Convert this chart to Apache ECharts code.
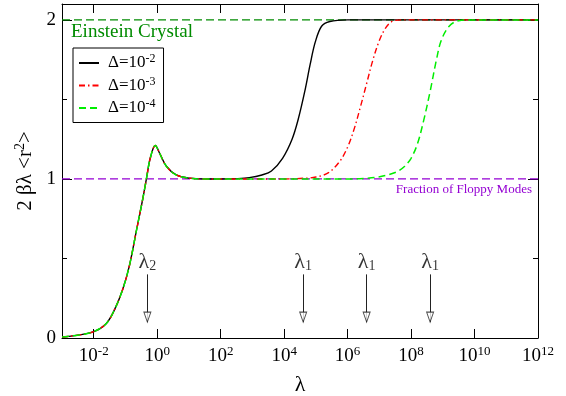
<!DOCTYPE html>
<html><head><meta charset="utf-8">
<script src="https://cdn.jsdelivr.net/npm/echarts@6/dist/echarts.min.js"></script>
<style>html,body{margin:0;padding:0;background:#fff}#c{width:566px;height:396px}</style>
</head><body><div id="c"></div>
<script>
// x values are log10(λ)
const xMinExp = -3, xMaxExp = 12;
const xTickExps = [-2, 0, 2, 4, 6, 8, 10, 12];
const yTicks = [0, 1, 2];
const yMinorTicks = [0.5, 1.5];
const seriesNames = ['Δ=10^-2', 'Δ=10^-3', 'Δ=10^-4'];

const blackX = [-3.0, -2.5, -2.0, -1.61, -1.34, -1.08, -0.87, -0.66, -0.45, -0.34, -0.22, -0.06, 0.08, 0.29, 0.6, 1.02, 1.5, 2.0, 2.5, 2.9, 3.3, 3.6, 3.95, 4.25, 4.45, 4.65, 4.82, 4.98, 5.18, 5.44, 6.0, 12.0];
const blackY = [0.006, 0.018, 0.04, 0.09, 0.18, 0.31, 0.46, 0.67, 0.88, 1.0, 1.13, 1.21, 1.16, 1.08, 1.025, 1.005, 1.0, 1.0, 1.002, 1.008, 1.025, 1.05, 1.13, 1.25, 1.38, 1.55, 1.72, 1.86, 1.96, 1.99, 2.0, 2.0];

const redX = [-3.0, -2.5, -2.0, -1.61, -1.34, -1.08, -0.87, -0.66, -0.45, -0.34, -0.22, -0.06, 0.08, 0.29, 0.6, 1.02, 1.5, 2.0, 3.0, 4.0, 4.5, 5.0, 5.4, 5.75, 6.0, 6.2, 6.4, 6.6, 6.8, 7.0, 7.2, 7.4, 7.7, 12.0];
const redY = [0.006, 0.018, 0.04, 0.09, 0.18, 0.31, 0.46, 0.67, 0.88, 1.0, 1.13, 1.21, 1.16, 1.08, 1.025, 1.005, 1.0, 1.0, 1.0, 1.0, 1.003, 1.012, 1.04, 1.11, 1.2, 1.31, 1.45, 1.6, 1.75, 1.87, 1.95, 1.99, 2.0, 2.0];

const greenX = [-3.0, -2.5, -2.0, -1.61, -1.34, -1.08, -0.87, -0.66, -0.45, -0.34, -0.22, -0.06, 0.08, 0.29, 0.6, 1.02, 1.5, 2.0, 4.0, 6.0, 6.5, 6.9, 7.25, 7.55, 7.8, 8.0, 8.2, 8.4, 8.6, 8.8, 8.95, 9.2, 9.5, 10.0, 12.0];
const greenY = [0.006, 0.018, 0.04, 0.09, 0.18, 0.31, 0.46, 0.67, 0.88, 1.0, 1.13, 1.21, 1.16, 1.08, 1.025, 1.005, 1.0, 1.0, 1.0, 1.0, 1.003, 1.01, 1.025, 1.045, 1.08, 1.13, 1.22, 1.37, 1.55, 1.75, 1.87, 1.96, 1.995, 2.0, 2.0];

const einsteinLevel = 2;
const floppyLevel = 1;
const arrowX = [-0.31, 4.6, 6.6, 8.6];
const arrowSub = ['2', '1', '1', '1'];
const arrowTop = 0.40, arrowBottom = 0.10;

const FONT = '"Liberation Serif", "Times New Roman", serif';
const zip = (xs, ys) => xs.map((x, i) => [x, ys[i]]);

const chart = echarts.init(document.getElementById('c'), null, {renderer: 'canvas'});

const tickLabelRich = {
  b: {fontFamily: FONT, fontSize: 19, color: '#000', lineHeight: 22},
  s: {fontFamily: FONT, fontSize: 13, color: '#000', verticalAlign: 'top', lineHeight: 14}
};

const xAxisBase = {
  type: 'value', min: xMinExp, max: xMaxExp,
  splitLine: {show: false},
  axisLine: {show: true, onZero: false, lineStyle: {color: '#000', width: 1}},
  axisTick: {show: true, inside: true, length: 9, customValues: xTickExps.slice(0, -1), lineStyle: {color: '#000'}}
};
const yAxisBase = {
  type: 'value', min: 0, max: 2.1,
  splitLine: {show: false},
  axisLine: {show: true, onZero: false, lineStyle: {color: '#000', width: 1}}
};

const lineCommon = {type: 'line', symbol: 'circle', showSymbol: false, smooth: 0.35};

chart.setOption({
  animation: false,
  grid: {left: 62, right: 28, top: 4, bottom: 58, containLabel: false, outerBoundsMode: 'none'},
  xAxis: [
    Object.assign({}, xAxisBase, {
      position: 'bottom',
      name: 'λ', nameLocation: 'middle', nameGap: 36,
      nameTextStyle: {fontFamily: FONT, fontSize: 22, color: '#000'},
      axisLabel: {
        show: true, margin: 7, customValues: xTickExps,
        formatter: v => '{b|10}{s|' + v + '}', rich: tickLabelRich
      }
    }),
    Object.assign({}, xAxisBase, {position: 'top', axisLabel: {show: false}})
  ],
  yAxis: [
    Object.assign({}, yAxisBase, {
      position: 'left',
      name: '{n|2 βλ <r}{s|2}{n|>}', nameLocation: 'middle', nameGap: 24, nameRotate: 90,
      nameTextStyle: {rich: {
        n: {fontFamily: FONT, fontSize: 21, color: '#000', lineHeight: 24},
        s: {fontFamily: FONT, fontSize: 14, color: '#000', verticalAlign: 'top', lineHeight: 16}
      }},
      axisTick: {show: true, inside: true, length: 10, customValues: yTicks, lineStyle: {color: '#000'}},
      axisLabel: {show: true, margin: 6, customValues: yTicks, fontFamily: FONT, fontSize: 19, color: '#000'}
    }),
    Object.assign({}, yAxisBase, {
      position: 'right',
      axisTick: {show: true, inside: true, length: 10, customValues: yTicks, lineStyle: {color: '#000'}},
      axisLabel: {show: false}
    }),
    Object.assign({}, yAxisBase, {
      position: 'left', axisLine: {show: false, onZero: false},
      axisTick: {show: true, inside: true, length: 5, customValues: yMinorTicks, lineStyle: {color: '#000'}},
      axisLabel: {show: false}
    }),
    Object.assign({}, yAxisBase, {
      position: 'right', axisLine: {show: false, onZero: false},
      axisTick: {show: true, inside: true, length: 5, customValues: yMinorTicks, lineStyle: {color: '#000'}},
      axisLabel: {show: false}
    })
  ],
  legend: {
    data: seriesNames, orient: 'vertical', left: 73, top: 48,
    padding: [5, 8, 6, 5], itemGap: 4, itemWidth: 20, itemHeight: 14,
    borderColor: '#000', borderWidth: 1, borderRadius: 0, backgroundColor: '#fff',
    selectedMode: false,
    itemStyle: {opacity: 0, borderWidth: 0},
    formatter: n => { const p = n.split('^'); return '{t|' + p[0] + '}{s|' + p[1] + '}'; },
    textStyle: {
      padding: [0, 0, 0, 4],
      rich: {
        t: {fontFamily: FONT, fontSize: 17, color: '#000', lineHeight: 20},
        s: {fontFamily: FONT, fontSize: 12, color: '#000', verticalAlign: 'top', lineHeight: 13}
      }
    }
  },
  graphic: [
    {type: 'text', left: 71, top: 23, silent: true,
     style: {text: 'Einstein Crystal', font: '19px ' + FONT, fill: '#008b00'}},
    {type: 'text', right: 34, top: 183, silent: true,
     style: {text: 'Fraction of Floppy Modes', font: '13px ' + FONT, fill: '#9400d3'}}
  ],
  series: [
    {type: 'line', name: 'einstein', silent: true, symbol: 'none', z: 1,
     data: [[xMinExp, einsteinLevel], [xMaxExp, einsteinLevel]],
     lineStyle: {color: '#008b00', width: 1.3, type: [8, 4]}},
    {type: 'line', name: 'floppy', silent: true, symbol: 'none', z: 1,
     data: [[xMinExp, floppyLevel], [xMaxExp, floppyLevel]],
     lineStyle: {color: '#9400d3', width: 1.3, type: [8, 4]},
     markLine: {
       silent: true, animation: false,
       symbol: ['none', 'none'],
       lineStyle: {color: '#222', width: 1, type: 'solid'},
       label: {show: false},
       data: arrowX.map(x => [{coord: [x, arrowTop]}, {coord: [x, arrowBottom]}])
     }},
    {type: 'scatter', name: 'arrowHeads', silent: true, z: 6,
     symbol: 'path://M0,0 L10,0 L5,14 Z', symbolSize: [7, 10], symbolOffset: [0, '-50%'],
     itemStyle: {color: '#fff', borderColor: '#222', borderWidth: 1},
     data: arrowX.map(x => [x, arrowBottom])},
    {type: 'scatter', name: 'arrowLabels', silent: true, z: 6,
     symbol: 'circle', symbolSize: 0,
     label: {
       show: true, position: 'top', distance: 1,
       formatter: p => '{l|λ}{s|' + arrowSub[p.dataIndex] + '}',
       rich: {
         l: {fontFamily: FONT, fontSize: 22, color: '#000', lineHeight: 22},
         s: {fontFamily: FONT, fontSize: 14, color: '#000', verticalAlign: 'bottom', lineHeight: 12}
       }
     },
     data: arrowX.map(x => [x, arrowTop])},
    Object.assign({}, lineCommon, {name: seriesNames[0], z: 3,
     data: zip(blackX, blackY), lineStyle: {color: '#000', width: 1.4, type: 'solid'}, itemStyle: {color: '#000'}}),
    Object.assign({}, lineCommon, {name: seriesNames[1], z: 4,
     data: zip(redX, redY), lineStyle: {color: '#ff0000', width: 1.4, type: [6, 3, 1.5, 3]}, itemStyle: {color: '#ff0000'}}),
    Object.assign({}, lineCommon, {name: seriesNames[2], z: 5,
     data: zip(greenX, greenY), lineStyle: {color: '#00ee00', width: 1.5, type: [7, 4]}, itemStyle: {color: '#00ee00'}})
  ]
});
</script></body></html>
